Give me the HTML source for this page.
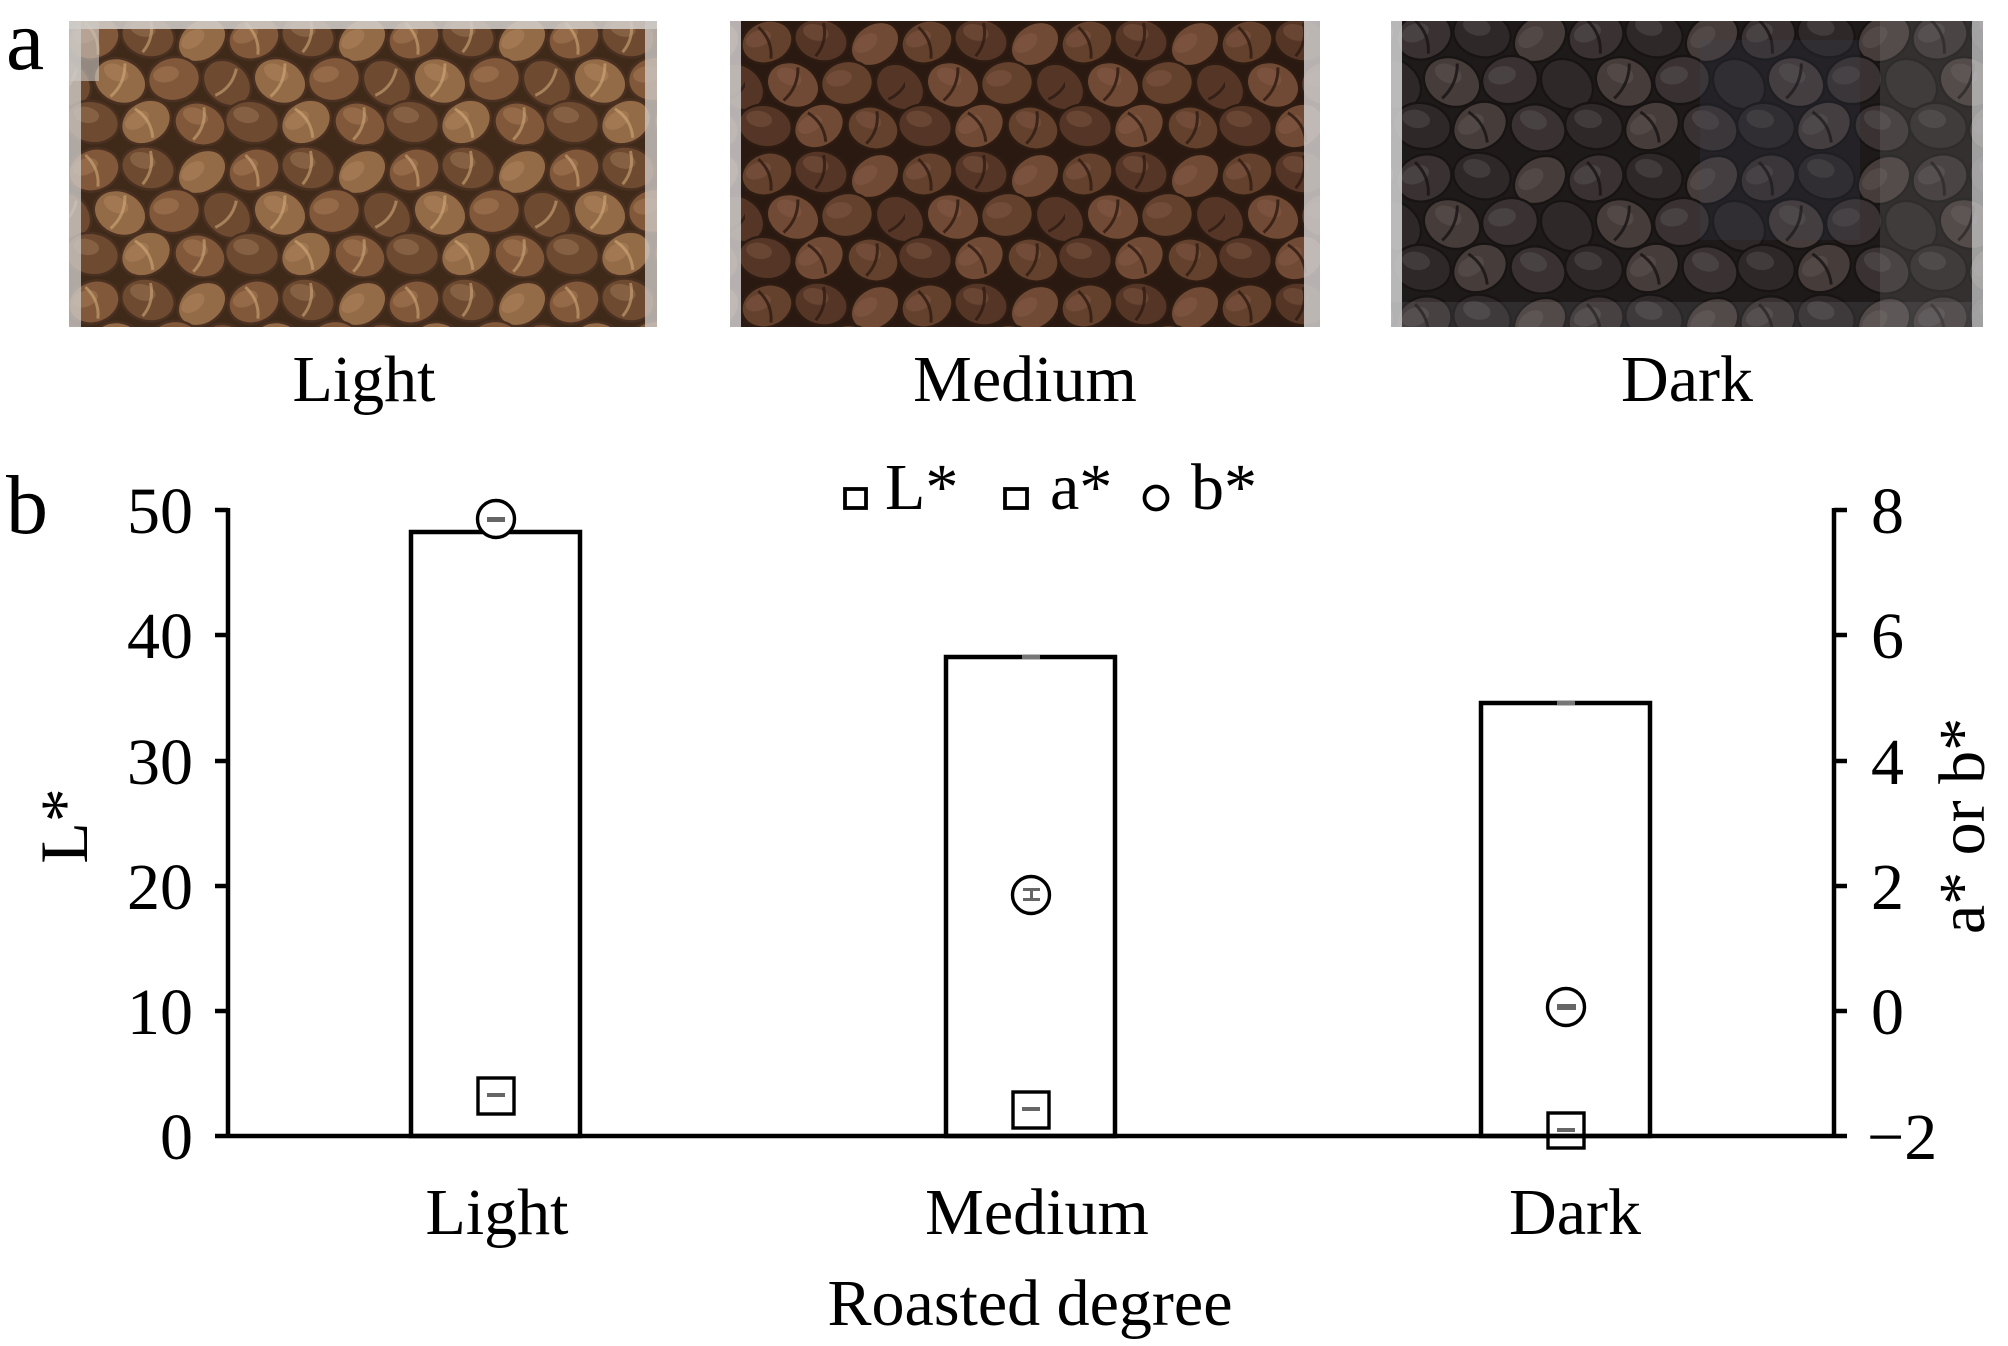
<!DOCTYPE html>
<html><head><meta charset="utf-8">
<style>
html,body{margin:0;padding:0;background:#fff;}
svg{display:block;}
text{font-family:"Liberation Serif","Times New Roman",serif;fill:#000;}
</style></head><body>
<svg width="2008" height="1346" viewBox="0 0 2008 1346" xmlns="http://www.w3.org/2000/svg">
<defs>
<pattern id="pL" width="160" height="132" patternUnits="userSpaceOnUse" patternTransform="translate(72,14)">
  <rect x="0" y="0" width="160" height="132" fill="#3f2a1a"/>
  <g transform="translate(22,24) rotate(-20)"><ellipse rx="26" ry="21" fill="#82583a" stroke="#4a3020" stroke-width="2.5"/><ellipse cx="-7" cy="-6" rx="13" ry="8" fill="#c09a70" fill-opacity="0.28"/><path d="M-3,-17 Q6,0 -2,17" fill="none" stroke="#d4ae7c" stroke-width="3" stroke-opacity="0.55"/></g>
  <g transform="translate(76,22) rotate(15)"><ellipse rx="27" ry="21" fill="#6e4a30" stroke="#4a3020" stroke-width="2.5"/><ellipse cx="-7" cy="-6" rx="13" ry="8" fill="#c09a70" fill-opacity="0.28"/><path d="M-2,-17 Q7,0 -1,17" fill="none" stroke="#d4ae7c" stroke-width="3" stroke-opacity="0.55"/></g>
  <g transform="translate(130,26) rotate(-35)"><ellipse rx="26" ry="20" fill="#946b47" stroke="#4a3020" stroke-width="2.5"/><ellipse cx="-7" cy="-6" rx="13" ry="8" fill="#c09a70" fill-opacity="0.28"/></g>
  <g transform="translate(182,24) rotate(-20)"><ellipse rx="26" ry="21" fill="#82583a" stroke="#4a3020" stroke-width="2.5"/></g>
  <g transform="translate(48,67) rotate(25)"><ellipse rx="27" ry="22" fill="#946b47" stroke="#4a3020" stroke-width="2.5"/><ellipse cx="-7" cy="-6" rx="13" ry="8" fill="#c09a70" fill-opacity="0.28"/><path d="M-3,-18 Q6,0 -2,18" fill="none" stroke="#d4ae7c" stroke-width="3" stroke-opacity="0.55"/></g>
  <g transform="translate(102,65) rotate(-10)"><ellipse rx="26" ry="22" fill="#82583a" stroke="#4a3020" stroke-width="2.5"/><ellipse cx="-7" cy="-6" rx="13" ry="8" fill="#c09a70" fill-opacity="0.28"/></g>
  <g transform="translate(155,69) rotate(40)"><ellipse rx="26" ry="21" fill="#6e4a30" stroke="#4a3020" stroke-width="2.5"/><path d="M-2,-17 Q7,0 -1,17" fill="none" stroke="#d4ae7c" stroke-width="3" stroke-opacity="0.55"/></g>
  <g transform="translate(-5,69) rotate(40)"><ellipse rx="26" ry="21" fill="#6e4a30" stroke="#4a3020" stroke-width="2.5"/><path d="M-2,-17 Q7,0 -1,17" fill="none" stroke="#d4ae7c" stroke-width="3" stroke-opacity="0.55"/></g>
  <g transform="translate(20,108) rotate(10)"><ellipse rx="27" ry="21" fill="#6e4a30" stroke="#4a3020" stroke-width="2.5"/><ellipse cx="-7" cy="-6" rx="13" ry="8" fill="#c09a70" fill-opacity="0.28"/></g>
  <g transform="translate(180,108) rotate(10)"><ellipse rx="27" ry="21" fill="#6e4a30" stroke="#4a3020" stroke-width="2.5"/></g>
  <g transform="translate(74,108) rotate(-30)"><ellipse rx="26" ry="21" fill="#946b47" stroke="#4a3020" stroke-width="2.5"/><ellipse cx="-7" cy="-6" rx="13" ry="8" fill="#c09a70" fill-opacity="0.28"/><path d="M-3,-17 Q6,0 -2,17" fill="none" stroke="#d4ae7c" stroke-width="3" stroke-opacity="0.55"/></g>
  <g transform="translate(128,110) rotate(20)"><ellipse rx="26" ry="21" fill="#82583a" stroke="#4a3020" stroke-width="2.5"/><ellipse cx="-7" cy="-6" rx="13" ry="8" fill="#c09a70" fill-opacity="0.28"/><path d="M-2,-17 Q7,0 -1,17" fill="none" stroke="#d4ae7c" stroke-width="3" stroke-opacity="0.55"/></g>
</pattern>
<pattern id="pM" width="160" height="132" patternUnits="userSpaceOnUse" patternTransform="translate(745,18)">
  <rect x="0" y="0" width="160" height="132" fill="#2a1911"/>
  <g transform="translate(22,24) rotate(-20)"><ellipse rx="26" ry="21" fill="#63412d" stroke="#2e1c12" stroke-width="2.5"/><ellipse cx="-7" cy="-6" rx="13" ry="8" fill="#936450" fill-opacity="0.32"/><path d="M-3,-17 Q6,0 -2,17" fill="none" stroke="#2e1a10" stroke-width="3" stroke-opacity="0.8"/></g>
  <g transform="translate(76,22) rotate(15)"><ellipse rx="27" ry="21" fill="#553626" stroke="#2e1c12" stroke-width="2.5"/><ellipse cx="-7" cy="-6" rx="13" ry="8" fill="#936450" fill-opacity="0.32"/><path d="M-2,-17 Q7,0 -1,17" fill="none" stroke="#2e1a10" stroke-width="3" stroke-opacity="0.8"/></g>
  <g transform="translate(130,26) rotate(-35)"><ellipse rx="26" ry="20" fill="#704a34" stroke="#2e1c12" stroke-width="2.5"/><ellipse cx="-7" cy="-6" rx="13" ry="8" fill="#936450" fill-opacity="0.32"/></g>
  <g transform="translate(182,24) rotate(-20)"><ellipse rx="26" ry="21" fill="#63412d" stroke="#2e1c12" stroke-width="2.5"/></g>
  <g transform="translate(48,67) rotate(25)"><ellipse rx="27" ry="22" fill="#704a34" stroke="#2e1c12" stroke-width="2.5"/><ellipse cx="-7" cy="-6" rx="13" ry="8" fill="#936450" fill-opacity="0.32"/><path d="M-3,-18 Q6,0 -2,18" fill="none" stroke="#2e1a10" stroke-width="3" stroke-opacity="0.8"/></g>
  <g transform="translate(102,65) rotate(-10)"><ellipse rx="26" ry="22" fill="#63412d" stroke="#2e1c12" stroke-width="2.5"/><ellipse cx="-7" cy="-6" rx="13" ry="8" fill="#936450" fill-opacity="0.32"/></g>
  <g transform="translate(155,69) rotate(40)"><ellipse rx="26" ry="21" fill="#553626" stroke="#2e1c12" stroke-width="2.5"/><path d="M-2,-17 Q7,0 -1,17" fill="none" stroke="#2e1a10" stroke-width="3" stroke-opacity="0.8"/></g>
  <g transform="translate(-5,69) rotate(40)"><ellipse rx="26" ry="21" fill="#553626" stroke="#2e1c12" stroke-width="2.5"/></g>
  <g transform="translate(20,108) rotate(10)"><ellipse rx="27" ry="21" fill="#553626" stroke="#2e1c12" stroke-width="2.5"/><ellipse cx="-7" cy="-6" rx="13" ry="8" fill="#936450" fill-opacity="0.32"/></g>
  <g transform="translate(180,108) rotate(10)"><ellipse rx="27" ry="21" fill="#553626" stroke="#2e1c12" stroke-width="2.5"/></g>
  <g transform="translate(74,108) rotate(-30)"><ellipse rx="26" ry="21" fill="#704a34" stroke="#2e1c12" stroke-width="2.5"/><ellipse cx="-7" cy="-6" rx="13" ry="8" fill="#936450" fill-opacity="0.32"/><path d="M-3,-17 Q6,0 -2,17" fill="none" stroke="#2e1a10" stroke-width="3" stroke-opacity="0.8"/></g>
  <g transform="translate(128,110) rotate(20)"><ellipse rx="26" ry="21" fill="#63412d" stroke="#2e1c12" stroke-width="2.5"/><ellipse cx="-7" cy="-6" rx="13" ry="8" fill="#936450" fill-opacity="0.32"/><path d="M-2,-17 Q7,0 -1,17" fill="none" stroke="#2e1a10" stroke-width="3" stroke-opacity="0.8"/></g>
</pattern>
<pattern id="pD" width="172" height="142" patternUnits="userSpaceOnUse" patternTransform="translate(1400,10)">
  <rect x="0" y="0" width="172" height="142" fill="#1e1a1a"/>
  <g transform="translate(24,26) rotate(-20)"><ellipse rx="28" ry="23" fill="#3a3232" stroke="#181414" stroke-width="2.5"/><ellipse cx="-7" cy="-6" rx="14" ry="9" fill="#6e6666" fill-opacity="0.3"/><path d="M-3,-18 Q6,0 -2,18" fill="none" stroke="#181313" stroke-width="3" stroke-opacity="0.8"/></g>
  <g transform="translate(82,24) rotate(15)"><ellipse rx="29" ry="23" fill="#2e2828" stroke="#181414" stroke-width="2.5"/><ellipse cx="-7" cy="-6" rx="14" ry="9" fill="#6e6666" fill-opacity="0.3"/></g>
  <g transform="translate(140,28) rotate(-35)"><ellipse rx="28" ry="22" fill="#463c3a" stroke="#181414" stroke-width="2.5"/><ellipse cx="-7" cy="-6" rx="14" ry="9" fill="#6e6666" fill-opacity="0.3"/></g>
  <g transform="translate(196,26) rotate(-20)"><ellipse rx="28" ry="23" fill="#3a3232" stroke="#181414" stroke-width="2.5"/></g>
  <g transform="translate(52,72) rotate(25)"><ellipse rx="29" ry="24" fill="#463c3a" stroke="#181414" stroke-width="2.5"/><ellipse cx="-7" cy="-6" rx="14" ry="9" fill="#6e6666" fill-opacity="0.3"/><path d="M-3,-19 Q6,0 -2,19" fill="none" stroke="#181313" stroke-width="3" stroke-opacity="0.8"/></g>
  <g transform="translate(110,70) rotate(-10)"><ellipse rx="28" ry="24" fill="#3a3232" stroke="#181414" stroke-width="2.5"/><ellipse cx="-7" cy="-6" rx="14" ry="9" fill="#6e6666" fill-opacity="0.3"/></g>
  <g transform="translate(167,74) rotate(40)"><ellipse rx="28" ry="23" fill="#2e2828" stroke="#181414" stroke-width="2.5"/></g>
  <g transform="translate(-5,74) rotate(40)"><ellipse rx="28" ry="23" fill="#2e2828" stroke="#181414" stroke-width="2.5"/></g>
  <g transform="translate(22,116) rotate(10)"><ellipse rx="29" ry="23" fill="#2e2828" stroke="#181414" stroke-width="2.5"/><ellipse cx="-7" cy="-6" rx="14" ry="9" fill="#6e6666" fill-opacity="0.3"/></g>
  <g transform="translate(194,116) rotate(10)"><ellipse rx="29" ry="23" fill="#2e2828" stroke="#181414" stroke-width="2.5"/></g>
  <g transform="translate(80,116) rotate(-30)"><ellipse rx="28" ry="23" fill="#463c3a" stroke="#181414" stroke-width="2.5"/><ellipse cx="-7" cy="-6" rx="14" ry="9" fill="#6e6666" fill-opacity="0.3"/><path d="M-3,-18 Q6,0 -2,18" fill="none" stroke="#181313" stroke-width="3" stroke-opacity="0.8"/></g>
  <g transform="translate(138,118) rotate(20)"><ellipse rx="28" ry="23" fill="#3a3232" stroke="#181414" stroke-width="2.5"/><ellipse cx="-7" cy="-6" rx="14" ry="9" fill="#6e6666" fill-opacity="0.3"/></g>
</pattern>
</defs>
<rect x="0" y="0" width="2008" height="1346" fill="#fff"/>

<!-- Photo: Light -->
<rect x="69" y="21" width="588" height="306" fill="#6a4a30"/>
<rect x="69" y="21" width="588" height="306" fill="url(#pL)"/>
<rect x="69" y="21" width="12" height="306" fill="#cdc9c5" fill-opacity="0.8"/>
<rect x="69" y="21" width="588" height="8" fill="#d4d0cc" fill-opacity="0.85"/>
<rect x="645" y="21" width="12" height="306" fill="#cdc9c5" fill-opacity="0.8"/>
<rect x="69" y="21" width="30" height="60" fill="#cdc9c5" fill-opacity="0.6"/>

<!-- Photo: Medium -->
<rect x="730" y="21" width="590" height="306" fill="#4e3224"/>
<rect x="730" y="21" width="590" height="306" fill="url(#pM)"/>
<rect x="730" y="21" width="11" height="306" fill="#cfcccc" fill-opacity="0.85"/>
<rect x="1304" y="21" width="16" height="306" fill="#cfcccc" fill-opacity="0.85"/>

<!-- Photo: Dark -->
<rect x="1391" y="21" width="592" height="306" fill="#332c2c"/>
<rect x="1391" y="21" width="592" height="306" fill="url(#pD)"/>
<rect x="1391" y="21" width="11" height="306" fill="#d4d4d4" fill-opacity="0.85"/>
<rect x="1700" y="40" width="160" height="200" fill="#3c4658" fill-opacity="0.2"/>
<rect x="1880" y="21" width="103" height="306" fill="#8a8a8e" fill-opacity="0.2"/>
<rect x="1972" y="21" width="11" height="306" fill="#cfcfcf" fill-opacity="0.7"/>
<rect x="1391" y="302" width="592" height="25" fill="#9a9a9e" fill-opacity="0.15"/>

<!-- Panel letters -->
<text x="6" y="69" font-size="86">a</text>
<text x="6" y="533" font-size="84">b</text>

<!-- Photo labels -->
<text x="364" y="401" font-size="66" text-anchor="middle">Light</text>
<text x="1025" y="401" font-size="66" text-anchor="middle">Medium</text>
<text x="1687" y="401" font-size="66" text-anchor="middle">Dark</text>

<!-- Legend -->
<rect x="845" y="489" width="21" height="19" fill="#fff" stroke="#000" stroke-width="3.8"/>
<text x="885" y="509" font-size="66">L*</text>
<rect x="1005" y="489" width="22" height="19" fill="#fff" stroke="#000" stroke-width="3.8"/>
<text x="1050" y="509" font-size="66">a*</text>
<circle cx="1156" cy="498" r="11.5" fill="#fff" stroke="#000" stroke-width="3.8"/>
<text x="1191" y="509" font-size="66">b*</text>

<!-- Bars -->
<g fill="#fff" stroke="#000" stroke-width="4.5">
<rect x="411" y="532" width="169" height="604"/>
<rect x="946" y="657" width="169" height="479"/>
<rect x="1481" y="703" width="169" height="433"/>
</g>
<rect x="1022" y="655" width="18" height="4" fill="#777"/>
<rect x="1557" y="701" width="18" height="4" fill="#777"/>

<!-- Axes -->
<g stroke="#000" stroke-width="4.5" fill="none">
<line x1="228" y1="508" x2="228" y2="1138"/>
<line x1="1834" y1="508" x2="1834" y2="1138"/>
<line x1="215" y1="1136" x2="1847" y2="1136"/>
<line x1="215" y1="510" x2="228" y2="510"/>
<line x1="215" y1="635" x2="228" y2="635"/>
<line x1="215" y1="761" x2="228" y2="761"/>
<line x1="215" y1="886" x2="228" y2="886"/>
<line x1="215" y1="1011" x2="228" y2="1011"/>
<line x1="1834" y1="510" x2="1847" y2="510"/>
<line x1="1834" y1="635" x2="1847" y2="635"/>
<line x1="1834" y1="761" x2="1847" y2="761"/>
<line x1="1834" y1="886" x2="1847" y2="886"/>
<line x1="1834" y1="1011" x2="1847" y2="1011"/>
</g>

<!-- Left tick labels -->
<g font-size="66" text-anchor="end">
<text x="193" y="533">50</text>
<text x="193" y="658">40</text>
<text x="193" y="784">30</text>
<text x="193" y="909">20</text>
<text x="193" y="1034">10</text>
<text x="193" y="1159">0</text>
</g>
<!-- Right tick labels -->
<g font-size="66" text-anchor="start">
<text x="1871" y="533">8</text>
<text x="1871" y="658">6</text>
<text x="1871" y="784">4</text>
<text x="1871" y="909">2</text>
<text x="1871" y="1034">0</text>
<text x="1867" y="1159">−2</text>
</g>

<!-- Axis titles -->
<text transform="translate(87,826) rotate(-90)" font-size="68" text-anchor="middle">L*</text>
<text transform="translate(1984,826) rotate(-90)" font-size="66" text-anchor="middle">a* or b*</text>

<!-- X labels -->
<g font-size="66" text-anchor="middle">
<text x="497" y="1234">Light</text>
<text x="1037" y="1234">Medium</text>
<text x="1575" y="1234">Dark</text>
<text x="1030" y="1325">Roasted degree</text>
</g>

<!-- Markers -->
<g fill="none" stroke="#000" stroke-width="3.4">
<circle cx="496" cy="519" r="18.5" fill="#fff"/>
<circle cx="1031" cy="895" r="18.5" fill="#fff"/>
<circle cx="1566" cy="1007" r="18.5" fill="#fff"/>
<rect x="478" y="1078" width="36" height="36" fill="#fff"/>
<rect x="1013" y="1092" width="36" height="36" fill="#fff"/>
<rect x="1548" y="1113" width="36" height="35"/>
</g>
<g fill="#666">
<rect x="487" y="517" width="18" height="5"/>
<rect x="487" y="1093" width="18" height="4"/>
<rect x="1023" y="888" width="17" height="3"/>
<rect x="1023" y="898" width="17" height="3"/>
<rect x="1030" y="888" width="3" height="13"/>
<rect x="1022" y="1107" width="18" height="4"/>
<rect x="1557" y="1004" width="19" height="6"/>
<rect x="1557" y="1128" width="18" height="4"/>
</g>
</svg>
</body></html>
